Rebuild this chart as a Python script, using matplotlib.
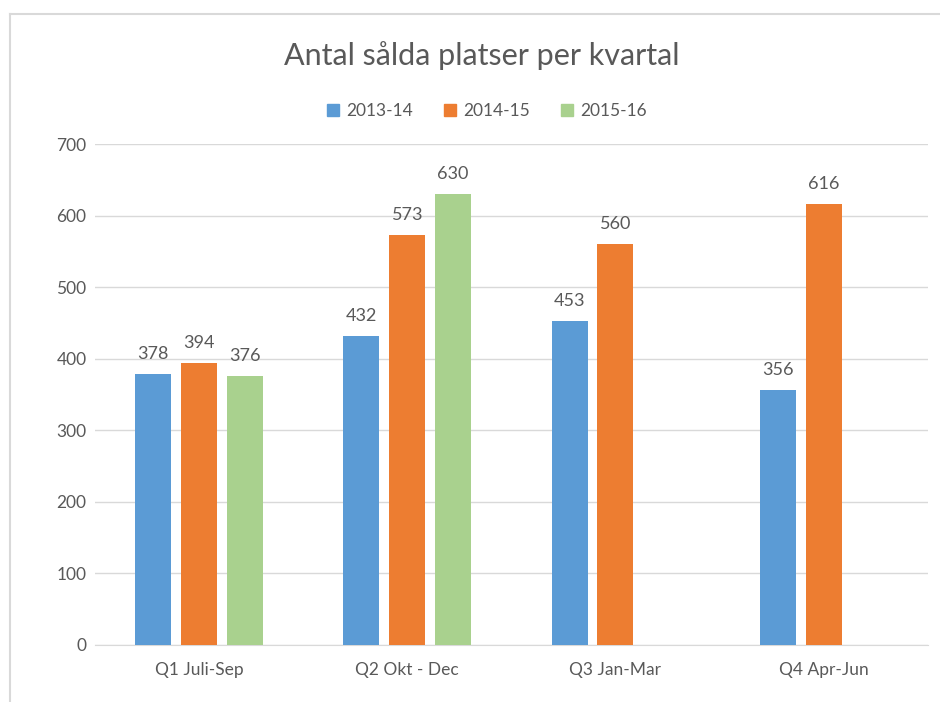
import matplotlib
matplotlib.use('Agg')
import matplotlib.pyplot as plt
from matplotlib.lines import Line2D
import numpy as np

# chart data
categories = ['Q1 Juli-Sep', 'Q2 Okt - Dec', 'Q3 Jan-Mar', 'Q4 Apr-Jun']
series_names = ['2013-14', '2014-15', '2015-16']
values_2013 = [378, 432, 453, 356]
values_2014 = [394, 573, 560, 616]
values_2015 = [376, 630, None, None]
colors = ['#5B9BD5', '#ED7D31', '#A9D18E']
yticks = [0, 100, 200, 300, 400, 500, 600, 700]

plt.rcParams['font.family'] = ['Lato', 'DejaVu Sans']
text_col = '#595959'

fig = plt.figure(figsize=(9.4, 7.02), dpi=100)
ax = fig.add_axes([0.101, 0.0812, 0.886, 0.7136])

x = np.arange(len(categories))
width = 0.173
offsets = [-0.22, 0.0, 0.22]
all_series = [values_2013, values_2014, values_2015]

for vals, off, col, name in zip(all_series, offsets, colors, series_names):
    xs = [xi + off for xi, v in zip(x, vals) if v is not None]
    ys = [v for v in vals if v is not None]
    bars = ax.bar(xs, ys, width=width, color=col, label=name, zorder=3)
    for b, v in zip(bars, ys):
        ax.text(b.get_x() + b.get_width() / 2, v + 17, str(v),
                ha='center', va='bottom', fontsize=13, color=text_col)

ax.set_xlim(-0.5, len(categories) - 0.5)
ax.set_ylim(0, 700)
ax.set_yticks(yticks)
ax.set_xticks(x)
ax.set_xticklabels(categories)
ax.tick_params(axis='both', length=0, labelsize=12.5, colors=text_col)
ax.tick_params(axis='x', pad=12)
ax.tick_params(axis='y', pad=6)
ax.grid(axis='y', color='#D9D9D9', linewidth=1, zorder=0)
for s in ['top', 'right', 'left']:
    ax.spines[s].set_visible(False)
ax.spines['bottom'].set_color('#D9D9D9')

fig.text(482 / 940, 1 - 56 / 702, 'Antal sålda platser per kvartal',
         ha='center', va='center', fontsize=22, color=text_col)

handles = [plt.Rectangle((0, 0), 1, 1, color=c) for c in colors]
fig.legend(handles, series_names, loc='center', bbox_to_anchor=(0.518, 1 - 111 / 702),
           ncol=3, frameon=False, fontsize=12.5, labelcolor=text_col,
           handlelength=0.7, handleheight=0.7, handletextpad=0.4, columnspacing=1.8)

# outer chart border (partly cropped in the reference)
bx = 10 / 940
by = 1 - 14 / 702
fig.add_artist(Line2D([bx, 1.0], [by, by], transform=fig.transFigure, color='#D9D9D9', linewidth=1.5))
fig.add_artist(Line2D([bx, bx], [0.0, by], transform=fig.transFigure, color='#D9D9D9', linewidth=1.5))

fig.savefig('out.png', dpi=100)
